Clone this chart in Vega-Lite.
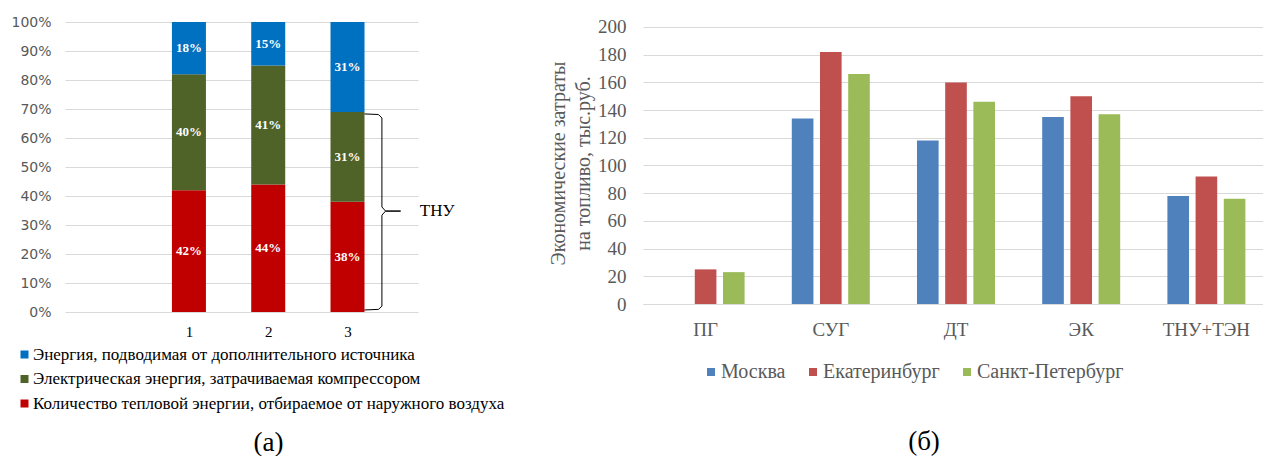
{
  "$schema": "https://vega.github.io/schema/vega-lite/v6.json",
  "background": "white",
  "padding": {"left": 10, "top": 15, "right": 0, "bottom": 0},
  "config": {"view": {"stroke": null}, "font": "Liberation Serif"},
  "datasets": {
    "energy": [
      {"bar": 1, "part": "Количество тепловой энергии, отбираемое от наружного воздуха", "pct": 42, "k": 1, "label": "42%"},
      {"bar": 1, "part": "Электрическая энергия, затрачиваемая компрессором", "pct": 40, "k": 2, "label": "40%"},
      {"bar": 1, "part": "Энергия, подводимая от дополнительного источника", "pct": 18, "k": 3, "label": "18%"},
      {"bar": 2, "part": "Количество тепловой энергии, отбираемое от наружного воздуха", "pct": 44, "k": 1, "label": "44%"},
      {"bar": 2, "part": "Электрическая энергия, затрачиваемая компрессором", "pct": 41, "k": 2, "label": "41%"},
      {"bar": 2, "part": "Энергия, подводимая от дополнительного источника", "pct": 15, "k": 3, "label": "15%"},
      {"bar": 3, "part": "Количество тепловой энергии, отбираемое от наружного воздуха", "pct": 38, "k": 1, "label": "38%"},
      {"bar": 3, "part": "Электрическая энергия, затрачиваемая компрессором", "pct": 31, "k": 2, "label": "31%"},
      {"bar": 3, "part": "Энергия, подводимая от дополнительного источника", "pct": 31, "k": 3, "label": "31%"}
    ],
    "bracket": [
      {"bx": 3.214, "by": 68.3, "i": 1},
      {"bx": 3.39, "by": 68.1, "i": 2},
      {"bx": 3.434, "by": 66.9, "i": 3},
      {"bx": 3.434, "by": 36.2, "i": 4},
      {"bx": 3.48, "by": 34.8, "i": 5},
      {"bx": 3.67, "by": 34.8, "i": 6},
      {"bx": 3.48, "by": 34.8, "i": 7},
      {"bx": 3.434, "by": 33.4, "i": 8},
      {"bx": 3.434, "by": 2.0, "i": 9},
      {"bx": 3.39, "by": 0.9, "i": 10},
      {"bx": 3.214, "by": 0.7, "i": 11}
    ],
    "thu": [{"tx": 4.13, "ty": 34.8, "name": "ТНУ"}],
    "costs": [
      {"fuel": "ПГ", "city": "Москва", "cost": 0},
      {"fuel": "ПГ", "city": "Екатеринбург", "cost": 25},
      {"fuel": "ПГ", "city": "Санкт-Петербург", "cost": 23},
      {"fuel": "СУГ", "city": "Москва", "cost": 134},
      {"fuel": "СУГ", "city": "Екатеринбург", "cost": 182},
      {"fuel": "СУГ", "city": "Санкт-Петербург", "cost": 166},
      {"fuel": "ДТ", "city": "Москва", "cost": 118},
      {"fuel": "ДТ", "city": "Екатеринбург", "cost": 160},
      {"fuel": "ДТ", "city": "Санкт-Петербург", "cost": 146},
      {"fuel": "ЭК", "city": "Москва", "cost": 135},
      {"fuel": "ЭК", "city": "Екатеринбург", "cost": 150},
      {"fuel": "ЭК", "city": "Санкт-Петербург", "cost": 137},
      {"fuel": "ТНУ+ТЭН", "city": "Москва", "cost": 78},
      {"fuel": "ТНУ+ТЭН", "city": "Екатеринбург", "cost": 92},
      {"fuel": "ТНУ+ТЭН", "city": "Санкт-Петербург", "cost": 76}
    ]
  },
  "bounds": "flush",
  "spacing": 225,
  "resolve": {"scale": {"color": "independent"}, "legend": {"color": "independent"}},
  "hconcat": [
    {
      "width": 353,
      "height": 290,
      "title": {"text": "(а)", "orient": "bottom", "anchor": "middle", "frame": "group", "font": "Liberation Serif", "fontSize": 27, "fontWeight": "normal", "color": "black", "offset": 18, "dx": 27},
      "layer": [
        {
          "data": {"name": "energy"},
          "mark": {"type": "bar", "size": 34},
          "encoding": {
            "x": {"field": "bar", "type": "quantitative", "scale": {"domain": [-0.5, 3.826], "nice": false, "zero": false},
              "axis": {"values": [1, 2, 3], "format": "d", "grid": false, "ticks": false, "domain": false, "title": null, "labelFont": "Liberation Serif", "labelFontSize": 15, "labelColor": "black", "labelPadding": 12}},
            "y": {"field": "pct", "type": "quantitative", "stack": "zero", "scale": {"domain": [0, 100], "nice": false},
              "axis": {"values": [0, 10, 20, 30, 40, 50, 60, 70, 80, 90, 100], "labelExpr": "datum.value + '%'", "title": null, "ticks": false, "domain": false, "labelFont": "DejaVu Sans", "labelFontSize": 14, "labelColor": "#595959", "labelPadding": 14, "gridColor": "#D9D9D9"}},
            "color": {"field": "part", "type": "nominal",
              "scale": {"domain": ["Энергия, подводимая от дополнительного источника", "Электрическая энергия, затрачиваемая компрессором", "Количество тепловой энергии, отбираемое от наружного воздуха"], "range": ["#0070C0", "#4F6228", "#C00000"]},
              "legend": {"orient": "none", "legendX": -49, "legendY": 324, "direction": "vertical", "title": null, "symbolType": "square", "symbolSize": 64, "symbolStrokeWidth": 0, "labelFont": "Liberation Serif", "labelFontSize": 17, "labelColor": "black", "labelOffset": 0, "rowPadding": 6.5, "labelLimit": 0}},
            "order": {"field": "k", "type": "quantitative"}
          }
        },
        {
          "data": {"name": "energy"},
          "transform": [
            {"stack": "pct", "groupby": ["bar"], "sort": [{"field": "k", "order": "ascending"}], "as": ["p0", "p1"]},
            {"calculate": "(datum.p0 + datum.p1) / 2", "as": "pm"}
          ],
          "mark": {"type": "text", "color": "white", "font": "Liberation Serif", "fontSize": 13, "fontWeight": "bold", "baseline": "middle", "align": "center"},
          "encoding": {
            "x": {"field": "bar", "type": "quantitative",
              "axis": {"values": [1, 2, 3], "format": "d", "grid": false, "ticks": false, "domain": false, "title": null, "labelFont": "Liberation Serif", "labelFontSize": 15, "labelColor": "black", "labelPadding": 12}},
            "y": {"field": "pm", "type": "quantitative",
              "axis": {"values": [0, 10, 20, 30, 40, 50, 60, 70, 80, 90, 100], "labelExpr": "datum.value + '%'", "title": null, "ticks": false, "domain": false, "labelFont": "DejaVu Sans", "labelFontSize": 14, "labelColor": "#595959", "labelPadding": 14, "gridColor": "#D9D9D9"}},
            "text": {"field": "label"}
          }
        },
        {
          "data": {"name": "bracket"},
          "mark": {"type": "line", "color": "black", "strokeWidth": 1},
          "encoding": {
            "x": {"field": "bx", "type": "quantitative",
              "axis": {"values": [1, 2, 3], "format": "d", "grid": false, "ticks": false, "domain": false, "title": null, "labelFont": "Liberation Serif", "labelFontSize": 15, "labelColor": "black", "labelPadding": 12}},
            "y": {"field": "by", "type": "quantitative",
              "axis": {"values": [0, 10, 20, 30, 40, 50, 60, 70, 80, 90, 100], "labelExpr": "datum.value + '%'", "title": null, "ticks": false, "domain": false, "labelFont": "DejaVu Sans", "labelFontSize": 14, "labelColor": "#595959", "labelPadding": 14, "gridColor": "#D9D9D9"}},
            "order": {"field": "i", "type": "quantitative"}
          }
        },
        {
          "data": {"name": "thu"},
          "mark": {"type": "text", "color": "black", "font": "Liberation Serif", "fontSize": 17, "baseline": "middle", "align": "center"},
          "encoding": {
            "x": {"field": "tx", "type": "quantitative",
              "axis": {"values": [1, 2, 3], "format": "d", "grid": false, "ticks": false, "domain": false, "title": null, "labelFont": "Liberation Serif", "labelFontSize": 15, "labelColor": "black", "labelPadding": 12}},
            "y": {"field": "ty", "type": "quantitative",
              "axis": {"values": [0, 10, 20, 30, 40, 50, 60, 70, 80, 90, 100], "labelExpr": "datum.value + '%'", "title": null, "ticks": false, "domain": false, "labelFont": "DejaVu Sans", "labelFontSize": 14, "labelColor": "#595959", "labelPadding": 14, "gridColor": "#D9D9D9"}},
            "text": {"field": "name"}
          }
        }
      ]
    },
    {
      "width": 626,
      "height": 282,
      "title": {"text": "(б)", "orient": "bottom", "anchor": "middle", "frame": "group", "font": "Liberation Serif", "fontSize": 27, "fontWeight": "normal", "color": "black", "offset": 47, "dx": -32},
      "data": {"name": "costs"},
      "mark": {"type": "bar"},
      "encoding": {
        "x": {"field": "fuel", "type": "nominal", "sort": ["ПГ", "СУГ", "ДТ", "ЭК", "ТНУ+ТЭН"],
          "scale": {"paddingInner": 0.377, "paddingOuter": 0.1885},
          "axis": {"labelAngle": 0, "ticks": false, "title": null, "grid": false, "labelFont": "Liberation Serif", "labelFontSize": 19, "labelColor": "#595959", "labelPadding": 16, "domainColor": "#D9D9D9"}},
        "xOffset": {"field": "city", "type": "nominal", "sort": ["Москва", "Екатеринбург", "Санкт-Петербург"], "scale": {"paddingInner": 0.233, "paddingOuter": 0}},
        "y": {"field": "cost", "type": "quantitative", "scale": {"domain": [0, 203.6], "nice": false},
          "axis": {"values": [0, 20, 40, 60, 80, 100, 120, 140, 160, 180, 200], "title": ["Экономические затраты", "на топливо, тыс.руб."], "titleFont": "Liberation Serif", "titleFontSize": 20, "titleFontWeight": "normal", "titleColor": "#595959", "titlePadding": 4, "titleLineHeight": 25, "labelFont": "Liberation Serif", "labelFontSize": 19, "labelColor": "#595959", "labelPadding": 17, "ticks": false, "domain": false, "gridColor": "#D9D9D9"}},
        "color": {"field": "city", "type": "nominal",
          "scale": {"domain": ["Москва", "Екатеринбург", "Санкт-Петербург"], "range": ["#4F81BD", "#C0504D", "#9BBB59"]},
          "legend": {"orient": "none", "legendX": 58, "legendY": 340, "direction": "horizontal", "title": null, "symbolType": "square", "symbolSize": 64, "symbolStrokeWidth": 0, "labelFont": "Liberation Serif", "labelFontSize": 20, "labelColor": "#595959", "labelOffset": 0, "columnPadding": 17}}
      }
    }
  ]
}
